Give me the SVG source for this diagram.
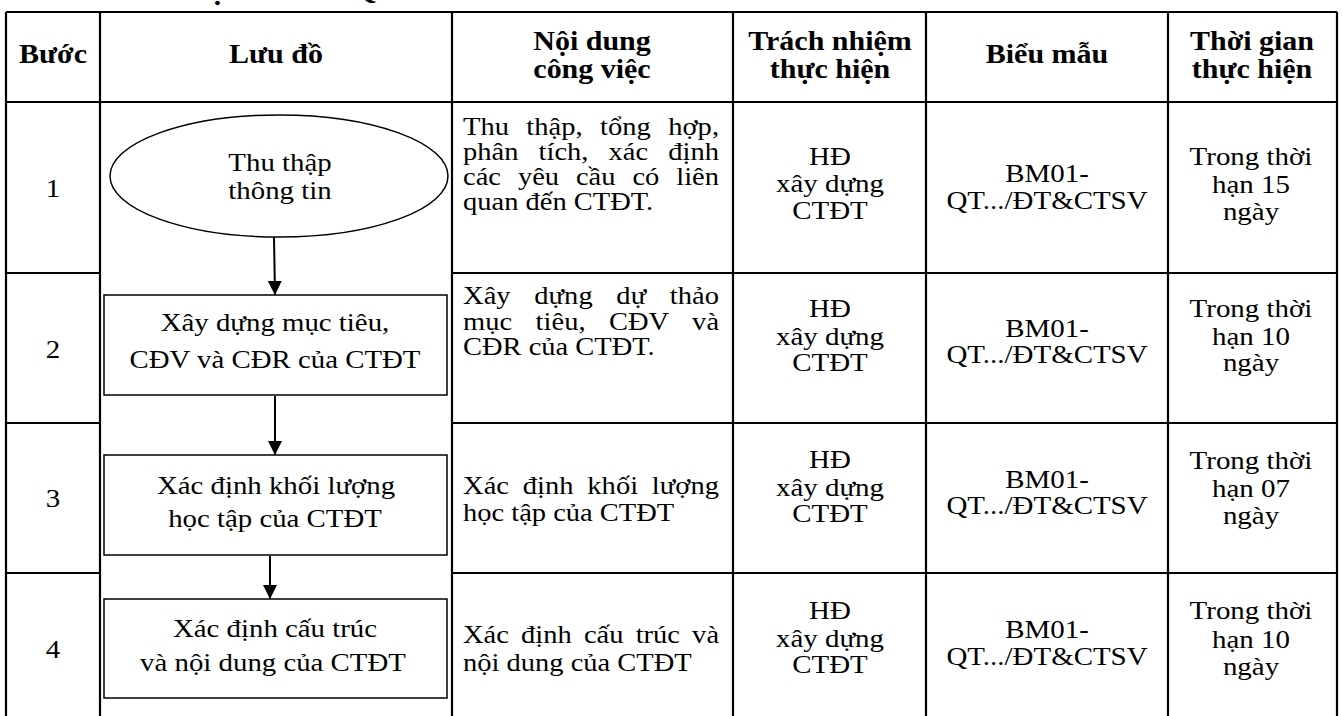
<svg xmlns="http://www.w3.org/2000/svg" width="1342" height="716" viewBox="0 0 1342 716">
<style>
text{font-family:"Liberation Serif","Times New Roman",serif;fill:#000}
.h{font-weight:bold;font-size:26.3px;text-anchor:middle}
.t{font-size:25.4px;text-anchor:middle}
.b{font-size:25.3px;text-anchor:middle}
.c{font-size:25px}
.grid{stroke:#000;stroke-width:2.2;fill:none}
.node{fill:#fff;stroke:#000;stroke-width:1.5}
.edge{stroke:#000;stroke-width:2;fill:none}
</style>
<defs>
<marker id="arr" viewBox="0 0 10 10" refX="10" refY="5" markerWidth="7" markerHeight="7.5" markerUnits="strokeWidth" orient="auto">
<path d="M0,0 L10,5 L0,10 Z" fill="#000"/>
</marker>
</defs>
<rect width="1342" height="716" fill="#fff"/>
<text transform="translate(150,-1) scale(1.14,1)" style="font-weight:bold;font-size:28px">5. NỘI DUNG QUY TRÌNH</text>
<g id="table">
<path class="grid" d="M6,12 H1337 M6,102 H1337 M6,12 V730 M100,12 V730 M452,12 V730 M733,12 V730 M926,12 V730 M1168,12 V730 M1337,12 V730 M6,273 H100 M452,273 H1337 M6,423 H100 M452,423 H1337 M6,573 H100 M452,573 H1337"/>
</g>
<g id="header">
<text class="h" transform="translate(53,63) scale(1.14,1)">Bước</text>
<text class="h" transform="translate(276,63) scale(1.14,1)">Lưu đồ</text>
<text class="h" transform="translate(592,50) scale(1.14,1)">Nội dung</text>
<text class="h" transform="translate(592,78) scale(1.14,1)">công việc</text>
<text class="h" transform="translate(830,50) scale(1.14,1)">Trách nhiệm</text>
<text class="h" transform="translate(830,78) scale(1.14,1)">thực hiện</text>
<text class="h" transform="translate(1047,63) scale(1.14,1)">Biểu mẫu</text>
<text class="h" transform="translate(1252,50) scale(1.14,1)">Thời gian</text>
<text class="h" transform="translate(1252,78) scale(1.14,1)">thực hiện</text>
</g>
<g id="steps" transform="translate(53,0) scale(1.14,1)">
<text class="t" x="0" y="197">1</text>
<text class="t" x="0" y="358">2</text>
<text class="t" x="0" y="507">3</text>
<text class="t" x="0" y="658">4</text>
</g>
<g id="connectors">
<line class="edge" x1="274" y1="237" x2="275" y2="295" marker-end="url(#arr)"/>
<line class="edge" x1="275" y1="396" x2="275" y2="455" marker-end="url(#arr)"/>
<line class="edge" x1="270" y1="556" x2="270" y2="599" marker-end="url(#arr)"/>
</g>
<g id="node1">
<ellipse class="node" cx="279" cy="176" rx="169" ry="61"/>
<text class="b" transform="translate(280,171) scale(1.14,1)">Thu thập</text>
<text class="b" transform="translate(280,199) scale(1.14,1)">thông tin</text>
</g>
<g id="node2">
<rect class="node" x="104" y="295" width="343" height="100"/>
<text class="b" transform="translate(275,331) scale(1.14,1)">Xây dựng mục tiêu,</text>
<text class="b" transform="translate(275,368) scale(1.14,1)">CĐV và CĐR của CTĐT</text>
</g>
<g id="node3">
<rect class="node" x="104" y="455" width="343" height="100"/>
<text class="b" transform="translate(276,494) scale(1.14,1)">Xác định khối lượng</text>
<text class="b" transform="translate(275,527) scale(1.14,1)">học tập của CTĐT</text>
</g>
<g id="node4">
<rect class="node" x="104" y="599" width="343" height="99"/>
<text class="b" transform="translate(275,637) scale(1.14,1)">Xác định cấu trúc</text>
<text class="b" transform="translate(273,671) scale(1.14,1)">và nội dung của CTĐT</text>
</g>
<g id="content" transform="translate(463,0) scale(1.14,1)">
<text class="c" x="0" y="135" word-spacing="8.9" textLength="224.6" lengthAdjust="spacing">Thu thập, tổng hợp,</text>
<text class="c" x="0" y="160" word-spacing="11.4" textLength="224.6" lengthAdjust="spacing">phân tích, xác định</text>
<text class="c" x="0" y="185" word-spacing="8.6" textLength="224.6" lengthAdjust="spacing">các yêu cầu có liên</text>
<text class="c" x="0" y="210">quan đến CTĐT.</text>
<text class="c" x="0" y="304" word-spacing="14.4" textLength="224.6" lengthAdjust="spacing">Xây dựng dự thảo</text>
<text class="c" x="0" y="330" word-spacing="14.2" textLength="224.6" lengthAdjust="spacing">mục tiêu, CĐV và</text>
<text class="c" x="0" y="355">CĐR của CTĐT.</text>
<text class="c" x="0" y="494" word-spacing="5.6" textLength="224.6" lengthAdjust="spacing">Xác định khối lượng</text>
<text class="c" x="0" y="521">học tập của CTĐT</text>
<text class="c" x="0" y="643" word-spacing="4.4" textLength="224.6" lengthAdjust="spacing">Xác định cấu trúc và</text>
<text class="c" x="0" y="671">nội dung của CTĐT</text>
</g>
<g id="resp" transform="translate(830,0) scale(1.14,1)">
<text class="t" x="0" y="165">HĐ</text><text class="t" x="0" y="192">xây dựng</text><text class="t" x="0" y="219">CTĐT</text>
<text class="t" x="0" y="317">HĐ</text><text class="t" x="0" y="345">xây dựng</text><text class="t" x="0" y="371">CTĐT</text>
<text class="t" x="0" y="468">HĐ</text><text class="t" x="0" y="496">xây dựng</text><text class="t" x="0" y="522">CTĐT</text>
<text class="t" x="0" y="619">HĐ</text><text class="t" x="0" y="647">xây dựng</text><text class="t" x="0" y="673">CTĐT</text>
</g>
<g id="forms" transform="translate(1047,0) scale(1.14,1)">
<text class="t" x="0" y="182">BM01-</text><text class="t" x="0" y="209">QT.../ĐT&amp;CTSV</text>
<text class="t" x="0" y="337">BM01-</text><text class="t" x="0" y="363">QT.../ĐT&amp;CTSV</text>
<text class="t" x="0" y="488">BM01-</text><text class="t" x="0" y="514">QT.../ĐT&amp;CTSV</text>
<text class="t" x="0" y="638">BM01-</text><text class="t" x="0" y="665">QT.../ĐT&amp;CTSV</text>
</g>
<g id="time" transform="translate(1251,0) scale(1.14,1)">
<text class="t" x="0" y="165">Trong thời</text><text class="t" x="0" y="193">hạn 15</text><text class="t" x="0" y="220">ngày</text>
<text class="t" x="0" y="317">Trong thời</text><text class="t" x="0" y="345">hạn 10</text><text class="t" x="0" y="371">ngày</text>
<text class="t" x="0" y="469">Trong thời</text><text class="t" x="0" y="497">hạn 07</text><text class="t" x="0" y="524">ngày</text>
<text class="t" x="0" y="619">Trong thời</text><text class="t" x="0" y="648">hạn 10</text><text class="t" x="0" y="675">ngày</text>
</g>
</svg>
